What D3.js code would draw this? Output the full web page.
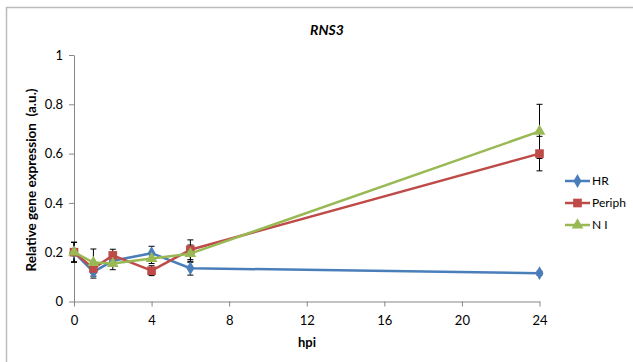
<!DOCTYPE html>
<html>
<head>
<meta charset="utf-8">
<script src="https://cdn.jsdelivr.net/npm/d3@7"></script>
<style>
  html, body { margin: 0; padding: 0; background: #fff; }
  svg { display: block; }
  text { font-family: Lato, "Open Sans", sans-serif; fill: #000; }
</style>
</head>
<body>
<svg id="chart" width="633" height="362"></svg>
<script>
// Time points (hours post inoculation)
const hpi = [0, 1, 2, 4, 6, 24];
const xTicks = [0, 4, 8, 12, 16, 20, 24];
const yTicks = [0, 0.2, 0.4, 0.6, 0.8, 1];

// Relative expression per condition
const hrValues     = [0.20, 0.12, 0.165, 0.196, 0.135, 0.115];
const periphValues = [0.20, 0.134, 0.187, 0.125, 0.21, 0.60];
const niValues     = [0.20, 0.158, 0.154, 0.174, 0.194, 0.69];

// Standard errors
const hrErr     = [0.04, 0.025, 0.02, 0.028, 0.028, 0.008];
const periphErr = [0.04, 0.02, 0.025, 0.02, 0.04, 0.07];
const niErr     = [0.04, 0.055, 0.025, 0.02, 0.035, 0.11];

const seriesNames = ["HR", "Periph", "N I"];
const seriesColors = ["#4a7ebb", "#be4b48", "#98b954"];
const seriesShapes = [d3.symbolDiamond, d3.symbolSquare, d3.symbolTriangle];

const series = [
  { name: seriesNames[0], values: hrValues, err: hrErr, color: seriesColors[0], shape: seriesShapes[0], size: 55 },
  { name: seriesNames[1], values: periphValues, err: periphErr, color: seriesColors[1], shape: seriesShapes[1], size: 75 },
  { name: seriesNames[2], values: niValues, err: niErr, color: seriesColors[2], shape: seriesShapes[2], size: 60 }
];

const svg = d3.select("#chart");

// Chart frame
svg.append("rect")
  .attr("x", 6.5).attr("y", 7.5)
  .attr("width", 640).attr("height", 370)
  .attr("fill", "none").attr("stroke", "#bcbcbc").attr("stroke-width", 1.5);

const x = d3.scaleLinear().domain([0, 24]).range([74, 539.5]);
const y = d3.scaleLinear().domain([0, 1]).range([301.5, 55]);

// Axes
const axisColor = "#868686";
const xAxis = svg.append("g")
  .attr("transform", `translate(0,${y(0)})`)
  .call(d3.axisBottom(x).tickValues(xTicks).tickSize(5).tickSizeOuter(0).tickPadding(6).tickFormat(d3.format("d")));
const yAxis = svg.append("g")
  .attr("transform", `translate(${x(0)},0)`)
  .call(d3.axisLeft(y).tickValues(yTicks).tickSize(5).tickSizeOuter(0).tickPadding(6).tickFormat(d => d === 0 || d === 1 ? d3.format("d")(d) : d3.format(".1f")(d)));
[xAxis, yAxis].forEach(a => {
  a.select(".domain").attr("stroke", axisColor).attr("stroke-width", 1);
  a.selectAll(".tick line").attr("stroke", axisColor);
  a.selectAll(".tick text").style("font-size", "13px").style("font-family", "Lato, 'Open Sans', sans-serif");
});
xAxis.selectAll(".tick text").attr("dy", "0.95em");

// Error bars
series.forEach(s => {
  const g = svg.append("g");
  hpi.forEach((h, i) => {
    const cx = x(h);
    const y1 = y(s.values[i] + s.err[i]);
    const y2 = y(s.values[i] - s.err[i]);
    g.append("line").attr("x1", cx).attr("x2", cx).attr("y1", y1).attr("y2", y2)
      .attr("stroke", "#000").attr("stroke-width", 1);
    [y1, y2].forEach(yy => g.append("line")
      .attr("x1", cx - 3).attr("x2", cx + 3).attr("y1", yy).attr("y2", yy)
      .attr("stroke", "#000").attr("stroke-width", 1));
  });
});

// Lines and markers
const line = d3.line().x((d, i) => x(hpi[i])).y(d => y(d));
series.forEach(s => {
  svg.append("path")
    .datum(s.values)
    .attr("d", line)
    .attr("fill", "none")
    .attr("stroke", s.color)
    .attr("stroke-width", 2.5)
    .attr("stroke-linejoin", "round");
  svg.append("g").selectAll("path")
    .data(s.values)
    .join("path")
    .attr("transform", (d, i) => `translate(${x(hpi[i])},${y(d)})`)
    .attr("d", d3.symbol().type(s.shape).size(s.size))
    .attr("fill", s.color);
});

// Title
svg.append("text")
  .attr("x", 327).attr("y", 35)
  .attr("text-anchor", "middle")
  .style("font-size", "14px").style("font-weight", "bold").style("font-style", "italic")
  .text("RNS3");

// Axis titles
svg.append("text")
  .attr("x", 307).attr("y", 347)
  .attr("text-anchor", "middle")
  .style("font-size", "13px").style("font-weight", "bold")
  .text("hpi");
svg.append("text")
  .attr("transform", "translate(36,180) rotate(-90)")
  .attr("text-anchor", "middle")
  .style("font-size", "13.5px").style("font-weight", "bold")
  .style("white-space", "pre")
  .text("Relative gene expression  (a.u.)");

// Legend
const legend = svg.append("g");
series.forEach((s, i) => {
  const ly = 181 + i * 22;
  legend.append("line")
    .attr("x1", 565).attr("x2", 590).attr("y1", ly).attr("y2", ly)
    .attr("stroke", s.color).attr("stroke-width", 2.5);
  legend.append("path")
    .attr("transform", `translate(577.5,${ly})`)
    .attr("d", d3.symbol().type(s.shape).size(s.size))
    .attr("fill", s.color);
  legend.append("text")
    .attr("x", 592).attr("y", ly).attr("dy", "0.35em")
    .style("font-size", "12px")
    .text(s.name);
});
</script>
</body>
</html>
